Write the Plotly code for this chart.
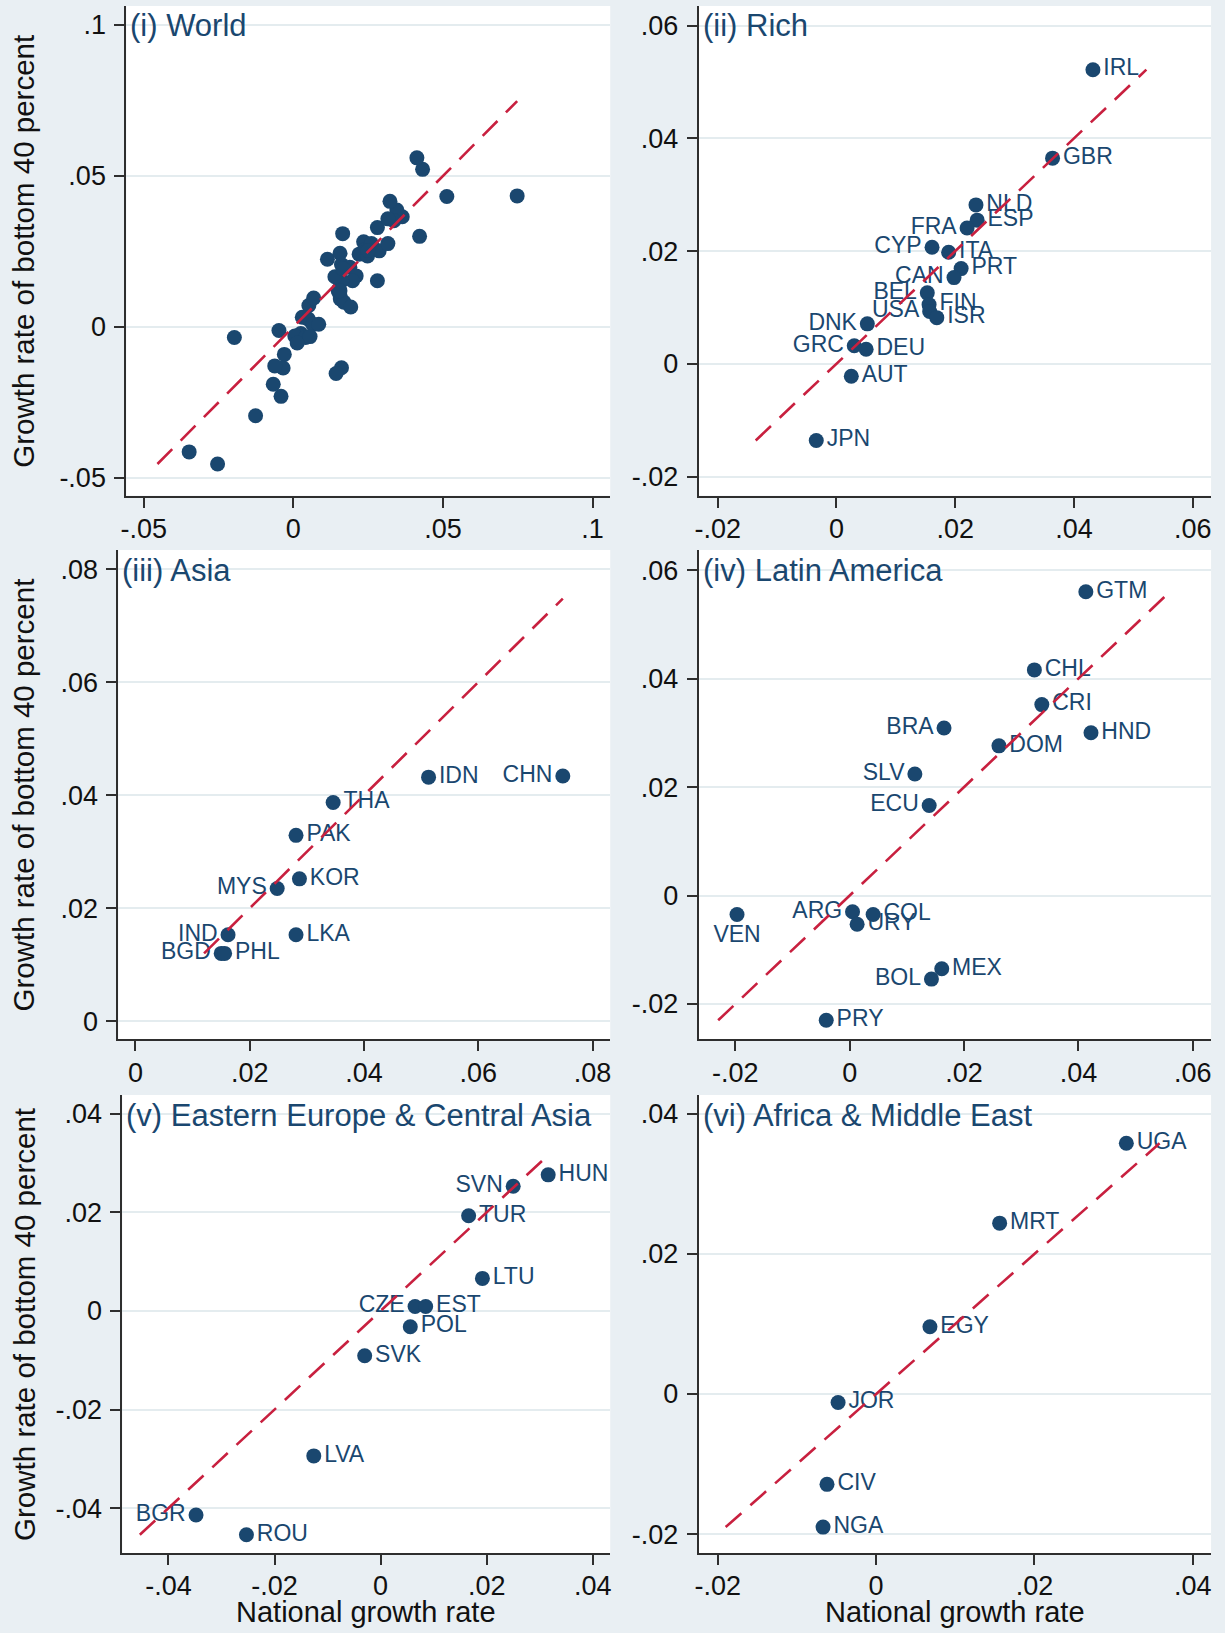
import numpy as np
import plotly.graph_objects as go

# ---------------- data ----------------
rich_codes = ["IRL", "GBR", "NLD", "ESP", "FRA", "CYP", "ITA", "PRT", "CAN", "BEL",
              "FIN", "USA", "ISR", "DNK", "GRC", "DEU", "AUT", "JPN"]
rich_nat = [0.0432, 0.0364, 0.0235, 0.0237, 0.0220, 0.0161, 0.0189, 0.0210, 0.0198, 0.0153,
            0.0156, 0.0157, 0.0169, 0.0052, 0.0030, 0.0050, 0.0025, -0.0034]
rich_b40 = [0.0522, 0.0365, 0.0282, 0.0255, 0.0241, 0.0207, 0.0198, 0.0169, 0.0153, 0.0126,
            0.0105, 0.0093, 0.0082, 0.0071, 0.0032, 0.0026, -0.0022, -0.0136]

asia_codes = ["IDN", "CHN", "THA", "PAK", "KOR", "MYS", "IND", "LKA", "BGD", "PHL"]
asia_nat = [0.0513, 0.0748, 0.0346, 0.0281, 0.0287, 0.0248, 0.0162, 0.0281, 0.0150, 0.0156]
asia_b40 = [0.0432, 0.0434, 0.0387, 0.0329, 0.0252, 0.0235, 0.0153, 0.0153, 0.0120, 0.0120]

latam_codes = ["GTM", "CHL", "CRI", "BRA", "HND", "DOM", "SLV", "ECU", "VEN", "ARG",
               "COL", "URY", "MEX", "BOL", "PRY"]
latam_nat = [0.0413, 0.0323, 0.0336, 0.0165, 0.0422, 0.0261, 0.0114, 0.0139, -0.0197, 0.0005,
             0.0041, 0.0013, 0.0161, 0.0143, -0.0041]
latam_b40 = [0.0560, 0.0416, 0.0352, 0.0309, 0.0300, 0.0276, 0.0224, 0.0166, -0.0035, -0.0030,
             -0.0035, -0.0053, -0.0135, -0.0154, -0.0230]

eeca_codes = ["HUN", "SVN", "TUR", "LTU", "CZE", "EST", "POL", "SVK", "LVA", "BGR", "ROU"]
eeca_nat = [0.0316, 0.0250, 0.0166, 0.0192, 0.0065, 0.0085, 0.0056, -0.0030, -0.0126, -0.0348, -0.0253]
eeca_b40 = [0.0276, 0.0253, 0.0193, 0.0066, 0.0009, 0.0009, -0.0032, -0.0091, -0.0294, -0.0414, -0.0454]

afme_codes = ["UGA", "MRT", "EGY", "JOR", "CIV", "NGA"]
afme_nat = [0.0316, 0.0156, 0.0068, -0.0048, -0.0062, -0.0067]
afme_b40 = [0.0358, 0.0244, 0.0096, -0.0012, -0.0129, -0.0190]

panel_titles = ["(i) World", "(ii) Rich", "(iii) Asia", "(iv) Latin America",
                "(v) Eastern Europe & Central Asia", "(vi) Africa & Middle East"]
x_title = "National growth rate"
y_title = "Growth rate of bottom 40 percent"

world_ticks = [-0.05, 0, 0.05, 0.1]
world_ticktext = ["-.05", "0", ".05", ".1"]
ticks_m02_06 = [-0.02, 0, 0.02, 0.04, 0.06]
ticktext_m02_06 = ["-.02", "0", ".02", ".04", ".06"]
ticks_0_08 = [0, 0.02, 0.04, 0.06, 0.08]
ticktext_0_08 = ["0", ".02", ".04", ".06", ".08"]
ticks_m04_04 = [-0.04, -0.02, 0, 0.02, 0.04]
ticktext_m04_04 = ["-.04", "-.02", "0", ".02", ".04"]
ticks_m02_04 = [-0.02, 0, 0.02, 0.04]
ticktext_m02_04 = ["-.02", "0", ".02", ".04"]

# ---------------- styling ----------------
W, H = 1225, 1633
NAVY = "#1A476F"
RED = "#C8203F"
BG = "#E9EFF3"
GRID = "#E4ECEF"
AX = "#2E2E2E"
TXT = "#111111"
FONT = "Liberation Sans, Arial, sans-serif"

LEFT_LABELS = {"FRA", "CYP", "CAN", "BEL", "USA", "DNK", "GRC", "CHN", "MYS", "IND", "BGD",
               "BRA", "SLV", "ECU", "ARG", "BOL", "SVN", "CZE", "BGR"}
BOTTOM_LABELS = {"VEN"}

def label_pos(code):
    if code in LEFT_LABELS:
        return "middle left"
    if code in BOTTOM_LABELS:
        return "bottom center"
    return "middle right"

# panel pixel boxes (left, right, top, bottom) and axis ranges
boxes = {
    1: (121, 607.7, 6, 495.7),
    2: (696.7, 1212, 6, 495.7),
    3: (113, 607.7, 550, 1039.3),
    4: (696.7, 1212, 550, 1039.3),
    5: (117, 607.7, 1095, 1553),
    6: (696.7, 1212, 1095, 1553),
}
ranges = {
    1: ((-0.0558, 0.1059), (-0.0559, 0.1063)),
    2: ((-0.0232, 0.0631), (-0.0234, 0.0635)),
    3: ((-0.0030, 0.0831), (-0.0032, 0.0834)),
    4: ((-0.0264, 0.0632), (-0.0265, 0.0637)),
    5: ((-0.0487, 0.0433), (-0.0491, 0.0438)),
    6: ((-0.0224, 0.0423), (-0.0227, 0.0427)),
}
ticks = {
    1: (world_ticks, world_ticktext, world_ticks, world_ticktext),
    2: (ticks_m02_06, ticktext_m02_06, ticks_m02_06, ticktext_m02_06),
    3: (ticks_0_08, ticktext_0_08, ticks_0_08, ticktext_0_08),
    4: (ticks_m02_06, ticktext_m02_06, ticks_m02_06, ticktext_m02_06),
    5: (ticks_m04_04, ticktext_m04_04, ticks_m04_04, ticktext_m04_04),
    6: (ticks_m02_04, ticktext_m02_04, ticks_m02_04, ticktext_m02_04),
}

world_nat = rich_nat + asia_nat + latam_nat + eeca_nat + afme_nat
world_b40 = rich_b40 + asia_b40 + latam_b40 + eeca_b40 + afme_b40

panels = {
    1: (None, world_nat, world_b40),
    2: (rich_codes, rich_nat, rich_b40),
    3: (asia_codes, asia_nat, asia_b40),
    4: (latam_codes, latam_nat, latam_b40),
    5: (eeca_codes, eeca_nat, eeca_b40),
    6: (afme_codes, afme_nat, afme_b40),
}

fig = go.Figure()
annotations = []

for n, (codes, xs, ys) in panels.items():
    s = "" if n == 1 else str(n)
    xref, yref = "x" + s, "y" + s
    if codes is None:
        fig.add_trace(go.Scatter(x=xs, y=ys, mode="markers", xaxis=xref, yaxis=yref,
                                 marker=dict(size=15, color=NAVY), showlegend=False,
                                 cliponaxis=False))
    else:
        fig.add_trace(go.Scatter(x=xs, y=ys, mode="markers+text", xaxis=xref, yaxis=yref,
                                 text=codes, textposition=[label_pos(c) for c in codes],
                                 textfont=dict(size=23, color=NAVY, family=FONT),
                                 marker=dict(size=15, color=NAVY), showlegend=False,
                                 cliponaxis=False))
    lo = float(min(np.min(xs), np.min(ys)))
    hi = float(max(np.max(xs), np.max(ys)))
    fig.add_trace(go.Scatter(x=[lo, hi], y=[lo, hi], mode="lines", xaxis=xref, yaxis=yref,
                             line=dict(color=RED, width=2.6, dash="21px,12px"),
                             showlegend=False))

    l, r, t, b = boxes[n]
    (xr, yr) = ranges[n]
    xt, xtt, yt, ytt = ticks[n]
    common = dict(showline=True, linecolor=AX, linewidth=2, ticks="outside", ticklen=10,
                  tickwidth=2, tickcolor=AX, zeroline=False, fixedrange=True,
                  tickfont=dict(size=27, color=TXT, family=FONT))
    fig.layout["xaxis" + s] = dict(domain=[l / W, r / W], range=list(xr), tickvals=xt,
                                   ticktext=xtt, showgrid=False, anchor=yref,
                                   ticklabelstandoff=-2, **common)
    fig.layout["yaxis" + s] = dict(domain=[1 - b / H, 1 - t / H], range=list(yr), tickvals=yt,
                                   ticktext=ytt, showgrid=True, gridcolor=GRID, gridwidth=2,
                                   anchor=xref, ticklabelstandoff=3, **common)
    annotations.append(dict(text=panel_titles[n - 1], xref=xref + " domain", yref=yref + " domain",
                            x=0, y=1, xanchor="left", yanchor="middle", xshift=2, yshift=-20,
                            showarrow=False, font=dict(size=31, color=NAVY, family=FONT)))
    if n in (1, 3, 5):
        annotations.append(dict(text=y_title, xref="paper", yref="paper",
                                x=18 / W, y=1 - (t + b) / 2 / H, textangle=-90,
                                xanchor="center", yanchor="middle", showarrow=False,
                                font=dict(size=29.5, color=TXT, family=FONT)))
    if n in (5, 6):
        annotations.append(dict(text=x_title, xref="paper", yref="paper",
                                x=(l + r) / 2 / W, y=1 - 1612 / H,
                                xanchor="center", yanchor="middle", showarrow=False,
                                font=dict(size=29, color=TXT, family=FONT)))

fig.update_layout(width=W, height=H, margin=dict(l=0, r=0, t=0, b=0),
                  paper_bgcolor=BG, plot_bgcolor="white", showlegend=False,
                  font=dict(family=FONT, color=TXT), annotations=annotations)

fig.write_html("out.html", config={"displayModeBar": False},
               post_script="document.body.style.margin='0';document.body.style.overflow='hidden';")
